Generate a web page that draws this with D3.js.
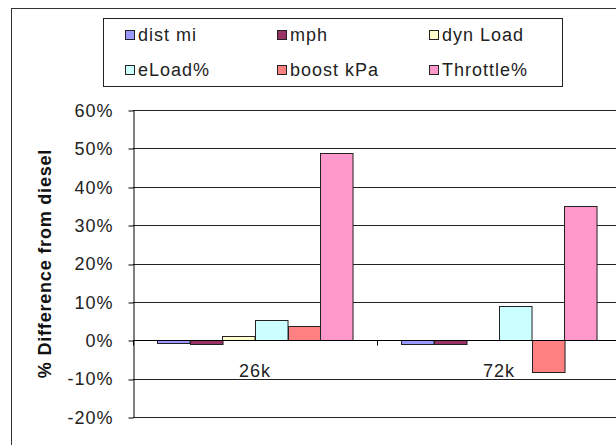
<!DOCTYPE html>
<html>
<head>
<meta charset="utf-8">
<script src="https://cdn.jsdelivr.net/npm/d3@7/dist/d3.min.js"></script>
<style>
  html, body { margin: 0; padding: 0; background: #fff; }
  svg { display: block; font-family: "Liberation Sans", Arial, sans-serif; }
</style>
</head>
<body>
<svg id="chart" width="616" height="445"></svg>
<script>
// Vehicle runs compared against diesel baseline
const categories = ["26k", "72k"];
const seriesNames = ["dist mi", "mph", "dyn Load", "eLoad%", "boost kPa", "Throttle%"];
const seriesColors = ["#9999FF", "#993366", "#FFFFCC", "#CCFFFF", "#FF8080", "#FF99CC"];
// percent difference from diesel, one array per series: [26k, 72k]
const distMi   = [-0.6, -1.0];
const mph      = [-1.0, -1.0];
const dynLoad  = [1.2, 0.0];
const eLoad    = [5.3, 8.9];
const boostKpa = [3.8, -8.4];
const throttle = [48.8, 35.0];
const yTicks = [-20, -10, 0, 10, 20, 30, 40, 50, 60];

const seriesValues = [distMi, mph, dynLoad, eLoad, boostKpa, throttle];

const svg = d3.select("#chart");
const plot = { left: 133, right: 621, top: 110, bottom: 417 };

// chart frame
svg.append("rect")
  .attr("x", 11.5).attr("y", 8.5)
  .attr("width", 700).attr("height", 500)
  .attr("fill", "#fff").attr("stroke", "#333").attr("stroke-width", 1);

const y = d3.scaleLinear().domain([-20, 60]).range([plot.bottom, plot.top]);
const x0 = d3.scaleBand().domain(categories).range([plot.left, plot.right]);
const x1 = d3.scaleBand().domain(seriesNames)
  .range([0, x0.bandwidth()]).paddingOuter(0.75).paddingInner(0);

// horizontal gridlines
svg.append("g").selectAll("line").data(yTicks).join("line")
  .attr("x1", plot.left).attr("x2", plot.right)
  .attr("y1", d => Math.round(y(d)) + 0.5).attr("y2", d => Math.round(y(d)) + 0.5)
  .attr("stroke", "#222").attr("stroke-width", 1);

// value axis
const yAxis = svg.append("g")
  .attr("transform", `translate(${plot.left + 0.5},0)`)
  .call(d3.axisLeft(y).tickValues(yTicks).tickSize(5).tickSizeOuter(0)
    .tickFormat(d => d + "%"));
yAxis.select(".domain").attr("stroke", "#000");
yAxis.selectAll(".tick line").attr("stroke", "#000")
  .attr("transform", d => `translate(0,${Math.round(y(d)) + 0.5 - y(d)})`);
yAxis.selectAll(".tick text")
  .attr("x", -20).attr("dy", "0.35em")
  .attr("fill", "#222").style("font-size", "18px").style("letter-spacing", "1px");

// bars
const groups = svg.append("g").selectAll("g").data(categories).join("g")
  .attr("transform", d => `translate(${x0(d)},0)`);
groups.selectAll("rect")
  .data((c, ci) => seriesNames.map((s, si) => ({ s, si, v: seriesValues[si][ci] })))
  .join("rect")
  .attr("x", d => Math.round(x1(d.s)) + 0.5)
  .attr("width", x1.bandwidth())
  .attr("y", d => Math.round(y(Math.max(0, d.v))) + 0.5)
  .attr("height", d => Math.abs(Math.round(y(d.v)) - Math.round(y(0))))
  .attr("fill", d => seriesColors[d.si])
  .attr("stroke", d => d.v === 0 ? "none" : "#222")
  .attr("stroke-width", 1);

// category axis along zero
const zeroY = Math.round(y(0)) + 0.5;
svg.append("line")
  .attr("x1", plot.left).attr("x2", plot.right)
  .attr("y1", zeroY).attr("y2", zeroY)
  .attr("stroke", "#000");
svg.append("g").selectAll("line")
  .data(categories.map(c => x0(c)).concat([plot.right]))
  .join("line")
  .attr("x1", d => Math.round(d) + 0.5).attr("x2", d => Math.round(d) + 0.5)
  .attr("y1", zeroY).attr("y2", zeroY + 5)
  .attr("stroke", "#000");
svg.append("g").selectAll("text").data(categories).join("text")
  .attr("x", d => x0(d) + x0.bandwidth() / 2)
  .attr("y", zeroY + 36)
  .attr("text-anchor", "middle")
  .attr("fill", "#222").style("font-size", "18px").style("letter-spacing", "1px")
  .text(d => d);

// axis title
svg.append("text")
  .attr("transform", `translate(51,${(plot.top + plot.bottom) / 2}) rotate(-90)`)
  .attr("text-anchor", "middle")
  .attr("fill", "#111").style("font-size", "18px").style("font-weight", "bold")
  .style("letter-spacing", "0.8px")
  .text("% Difference from diesel");

// legend
const legend = svg.append("g");
legend.append("rect")
  .attr("x", 103.5).attr("y", 18.5).attr("width", 459).attr("height", 68)
  .attr("fill", "#fff").attr("stroke", "#222");
const colX = [125, 277, 429];
const rowY = [35, 70];
const items = legend.selectAll("g").data(seriesNames).join("g")
  .attr("transform", (d, i) => `translate(${colX[i % 3]},${rowY[Math.floor(i / 3)]})`);
items.append("rect")
  .attr("x", 0.5).attr("y", -4.5).attr("width", 9).attr("height", 9)
  .attr("fill", (d, i) => seriesColors[i]).attr("stroke", "#222");
items.append("text")
  .attr("x", 13).attr("dy", "0.36em")
  .attr("fill", "#222").style("font-size", "18px").style("letter-spacing", "1px")
  .text(d => d);
</script>
</body>
</html>
